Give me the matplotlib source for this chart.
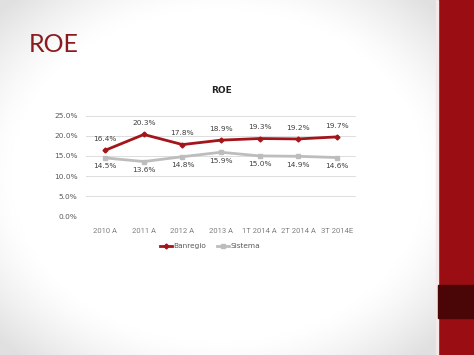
import numpy as np
import matplotlib.pyplot as plt
from matplotlib.patches import Rectangle

categories = ['2010 A', '2011 A', '2012 A', '2013 A', '1T 2014 A', '2T 2014 A', '3T 2014E']
banregio = [16.4, 20.3, 17.8, 18.9, 19.3, 19.2, 19.7]
sistema = [14.5, 13.6, 14.8, 15.9, 15.0, 14.9, 14.6]
yticks = [0, 5, 10, 15, 20, 25]

W, H = 474, 355
fig = plt.figure(figsize=(W / 100, H / 100), dpi=100)

# slide background with soft grey vignette
bg = fig.add_axes([0, 0, 1, 1], zorder=-10)
yy, xx = np.mgrid[0:H, 0:W]
cx, cy = 218, 175
d = np.sqrt(((xx - cx) / 230.0) ** 2 + ((yy - cy) / 185.0) ** 2)
shade = 1 - 0.12 * np.clip((d - 0.9) / 0.4, 0, 1) ** 1.3
bg.imshow(np.dstack([shade] * 3), extent=[0, W, H, 0], aspect='auto')
bg.set_xlim(0, W)
bg.set_ylim(H, 0)
bg.axis('off')
bg.add_patch(Rectangle((438, 0), 36, H, color='#9A0D12'))
bg.add_patch(Rectangle((436.5, 0), 1.5, H, color='#F4E8E8'))
bg.add_patch(Rectangle((438, 285), 36, 33, color='#4A0507'))
bg.text(29, 44, 'ROE', fontsize=18, color='#8B1A1E', family='Lato', va='center', ha='left')

ax = fig.add_axes([86 / W, (H - 216.5) / H, 270 / W, 101 / H])
x = np.arange(len(categories))
ax.plot(x, banregio, color='#A3141B', lw=2, marker='D', ms=2.5, label='Banregio', zorder=3)
ax.plot(x, sistema, color='#BDBDBD', lw=2, marker='s', ms=2.5, label='Sistema', zorder=3)

for i in x:
    ax.annotate(f'{banregio[i]:.1f}%', (i, banregio[i]), xytext=(0, 6), textcoords='offset points',
                ha='center', va='bottom', fontsize=5.3, color='#404040')
    ax.annotate(f'{sistema[i]:.1f}%', (i, sistema[i]), xytext=(0, -4), textcoords='offset points',
                ha='center', va='top', fontsize=5.3, color='#404040')

ax.set_xlim(-0.5, len(categories) - 0.5)
ax.set_ylim(0, 25)
ax.set_yticks(yticks)
ax.set_yticklabels([f'{v:.1f}%' for v in yticks], fontsize=5.3, color='#595959')
ax.set_xticks(x)
ax.set_xticklabels(categories, fontsize=5.5, color='#7F7F7F', family='Roboto', fontstretch='condensed')
ax.tick_params(length=0, axis='both')
ax.tick_params(axis='x', pad=8)
ax.tick_params(axis='y', pad=6)
ax.grid(axis='y', color='#DDDDDD', lw=0.7)
ax.set_axisbelow(True)
for s in ax.spines.values():
    s.set_visible(False)
ax.patch.set_alpha(0)
ax.set_title('ROE', fontsize=6.5, fontweight='bold', color='#222222', pad=16)

ax.legend(loc='upper center', bbox_to_anchor=(0.46, -0.2), ncol=2, frameon=False, fontsize=5.3,
          handlelength=1.6, columnspacing=1.4, handletextpad=0.2, labelcolor='#595959')

fig.savefig('out.png', dpi=100)
